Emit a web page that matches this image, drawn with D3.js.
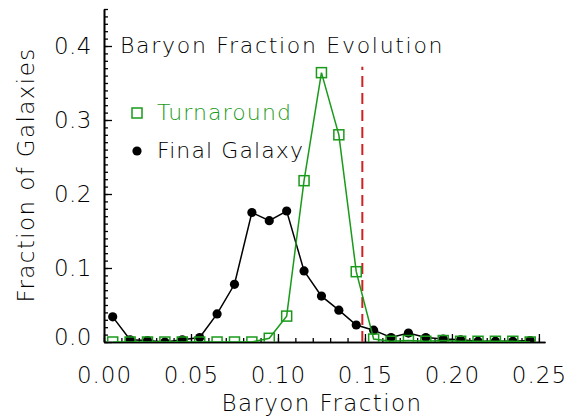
<!DOCTYPE html>
<html>
<head>
<meta charset="utf-8">
<script src="https://cdn.jsdelivr.net/npm/d3@7/dist/d3.min.js"></script>
<style>
  html, body { margin: 0; padding: 0; background: #fff; }
  svg { display: block; }
  text { font-family: "DejaVu Sans", sans-serif; font-weight: 200; }
</style>
</head>
<body>
<script>
// Histogram bin centres (baryon fraction)
const binCenters = [0.005, 0.015, 0.025, 0.035, 0.045, 0.055, 0.065, 0.075, 0.085, 0.095,
                    0.105, 0.115, 0.125, 0.135, 0.145, 0.155, 0.165, 0.175, 0.185, 0.195,
                    0.205, 0.215, 0.225, 0.235, 0.245];
// Fraction of galaxies at turnaround
const turnaround = [0.0, 0.0, 0.0, 0.0, 0.0, 0.0, 0.0, 0.0, 0.0, 0.005,
                    0.035, 0.218, 0.364, 0.280, 0.095, 0.004, 0.001, 0.002, 0.001, 0.002,
                    0.001, 0.001, 0.001, 0.001, 0.0];
// Fraction of galaxies in the final galaxy
const finalGalaxy = [0.034, 0.003, 0.002, 0.0, 0.003, 0.006, 0.038, 0.078, 0.175, 0.164,
                     0.177, 0.096, 0.062, 0.043, 0.023, 0.016, 0.006, 0.012, 0.006, 0.004,
                     0.003, 0.001, 0.001, 0.001, 0.002];
// Universal baryon fraction marker
const cosmicFraction = 0.1485;
const cosmicLineTop = 0.372;

const xTicks = [0.00, 0.05, 0.10, 0.15, 0.20, 0.25];
const yTicks = [0.0, 0.1, 0.2, 0.3, 0.4];
const xMinor = d3.range(0, 26).map(i => i / 100);
const yMinor = d3.range(0, 46).map(i => i / 100);

const seriesNames = ["Turnaround", "Final Galaxy"];
const titleText = "Baryon Fraction Evolution";
const xTitle = "Baryon Fraction";
const yTitle = "Fraction of Galaxies";

const W = 586, H = 418;
const GREEN = "#1a9a1a", RED = "#cc2222";

const svg = d3.select("body").append("svg").attr("width", W).attr("height", H);

const x = d3.scaleLinear().domain([0, 0.2535]).range([104, 545]);
const y = d3.scaleLinear().domain([0, 0.45]).range([342, 9]);

// clip region for the plotted data
svg.append("defs").append("clipPath").attr("id", "plotclip")
  .append("rect")
  .attr("x", x(0)).attr("y", y(0.45))
  .attr("width", x(0.2535) - x(0)).attr("height", y(0) - y(0.45));

// axes: minor ticks then major ticks with labels
const gx = svg.append("g").attr("transform", `translate(0,${y(0)})`);
gx.call(d3.axisBottom(x).tickValues(xMinor).tickSize(-4).tickSizeOuter(0).tickFormat(""));
gx.append("g").call(d3.axisBottom(x).tickValues(xTicks).tickSize(-8).tickSizeOuter(0)
    .tickPadding(25).tickFormat(d3.format(".2f")));
const gy = svg.append("g").attr("transform", `translate(${x(0)},0)`);
gy.call(d3.axisLeft(y).tickValues(yMinor).tickSize(-4).tickSizeOuter(0).tickFormat(""));
gy.append("g").call(d3.axisLeft(y).tickValues(yTicks).tickSize(-8).tickSizeOuter(0)
    .tickPadding(12).tickFormat(d3.format(".1f")));

svg.selectAll(".domain").attr("stroke", "#000").attr("stroke-width", 1.6);
svg.selectAll(".tick line").attr("stroke", "#000").attr("stroke-width", 1.3);
svg.selectAll(".tick text").attr("font-size", 23).attr("fill", "#000")
  .attr("letter-spacing", 1)
  .style("font-family", '"DejaVu Sans", sans-serif').style("font-weight", 200);
gy.selectAll(".tick text").attr("letter-spacing", 0.5);
// lift the zero label clear of the x axis
gy.selectAll(".tick text").filter(d => d === 0).attr("dy", "0.1em");

const plot = svg.append("g").attr("clip-path", "url(#plotclip)");

// cosmic baryon fraction (dashed)
plot.append("line")
  .attr("x1", x(cosmicFraction)).attr("x2", x(cosmicFraction))
  .attr("y1", y(0)).attr("y2", y(cosmicLineTop))
  .attr("stroke", RED).attr("stroke-width", 2).attr("stroke-dasharray", "11,6");

const line = d3.line().x((d, i) => x(binCenters[i])).y(d => y(d));

// final galaxy distribution
plot.append("path").datum(finalGalaxy).attr("d", line)
  .attr("fill", "none").attr("stroke", "#000").attr("stroke-width", 1.5);
plot.selectAll("circle.fin").data(finalGalaxy).join("circle").attr("class", "fin")
  .attr("cx", (d, i) => x(binCenters[i])).attr("cy", d => y(d)).attr("r", 4.6)
  .attr("fill", "#000");

// turnaround distribution
plot.append("path").datum(turnaround).attr("d", line)
  .attr("fill", "none").attr("stroke", GREEN).attr("stroke-width", 1.5);
const S = 10;
plot.selectAll("rect.turn").data(turnaround).join("rect").attr("class", "turn")
  .attr("x", (d, i) => x(binCenters[i]) - S / 2).attr("y", d => y(d) - S / 2)
  .attr("width", S).attr("height", S)
  .attr("fill", "none").attr("stroke", GREEN).attr("stroke-width", 1.5);

// title
svg.append("text").attr("x", 120).attr("y", 53).attr("font-size", 22)
  .attr("letter-spacing", 1.7).attr("fill", "#000").text(titleText);

// legend
const lg = svg.append("g");
lg.append("rect").attr("x", 132).attr("y", 108).attr("width", 10).attr("height", 10)
  .attr("fill", "none").attr("stroke", GREEN).attr("stroke-width", 1.5);
lg.append("text").attr("x", 157).attr("y", 120).attr("font-size", 22)
  .attr("letter-spacing", 1.1).attr("fill", GREEN).text(seriesNames[0]);
lg.append("circle").attr("cx", 137).attr("cy", 151).attr("r", 4.6).attr("fill", "#000");
lg.append("text").attr("x", 157).attr("y", 158).attr("font-size", 22)
  .attr("letter-spacing", 1.1).attr("fill", "#000").text(seriesNames[1]);

// axis titles
svg.append("text").attr("x", 322).attr("y", 411).attr("text-anchor", "middle")
  .attr("font-size", 23).attr("letter-spacing", 1.4).attr("fill", "#000").text(xTitle);
svg.append("text").attr("transform", "translate(34,175) rotate(-90)")
  .attr("text-anchor", "middle").attr("font-size", 23).attr("letter-spacing", 1.4)
  .attr("fill", "#000").text(yTitle);
</script>
</body>
</html>
